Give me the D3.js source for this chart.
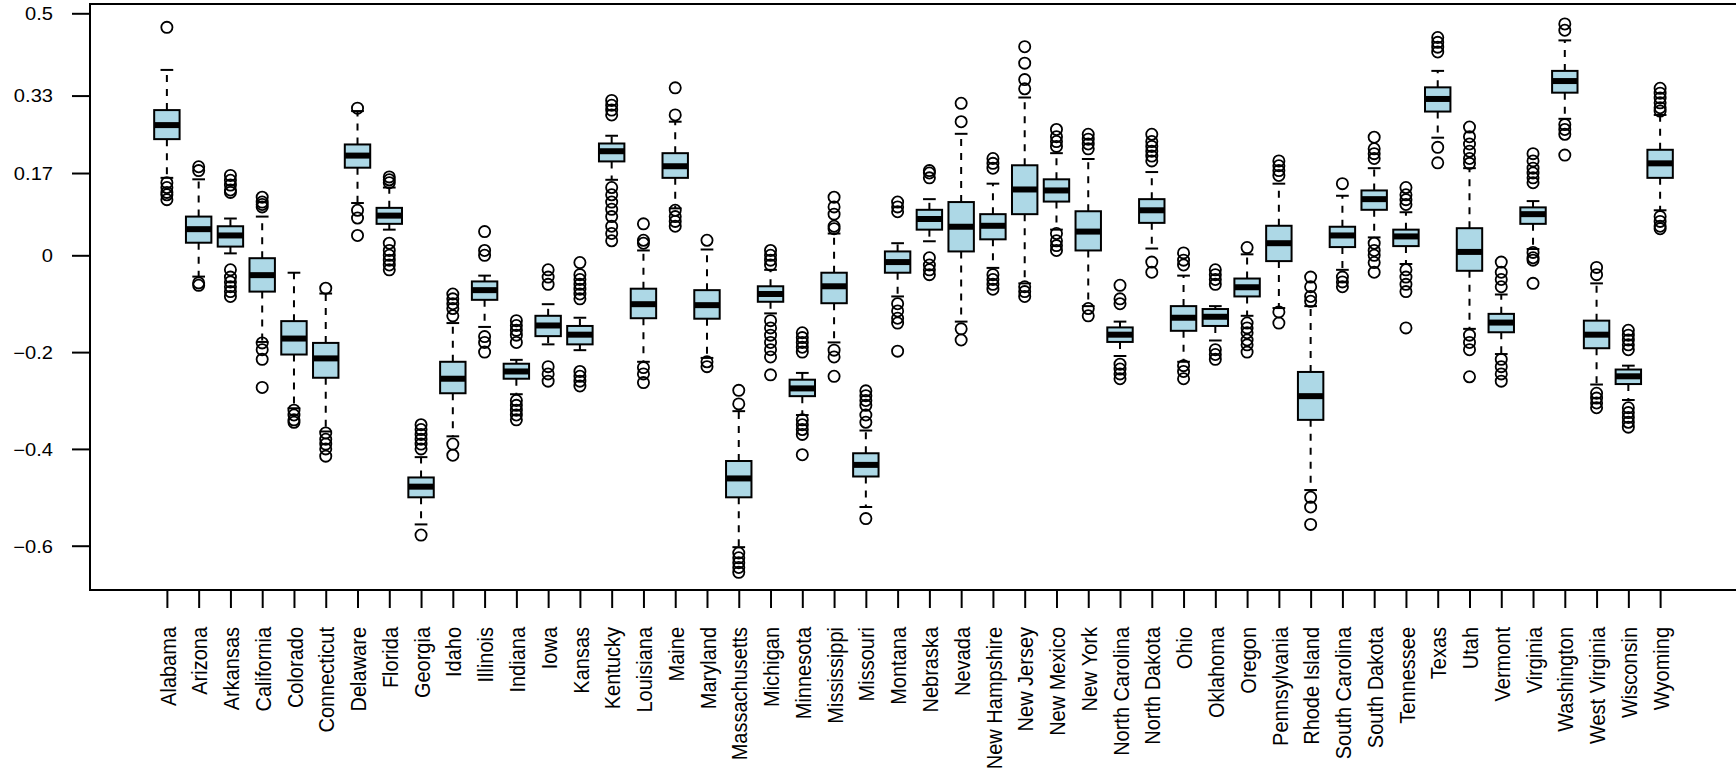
<!DOCTYPE html>
<html lang="en">

<head>
    <meta charset="UTF-8">
    <script src="https://d3js.org/d3.v7.min.js"></script>
    <title>State boxplots</title>
    <style>
        body { margin: 0; background: #fff; }
        svg { display: block; font-family: "Liberation Sans", Arial, Helvetica, sans-serif; }
    </style>
</head>

<body>
    <div id="chart"></div>
    <script>
        // Data
        const states = ["Alabama", "Arizona", "Arkansas", "California", "Colorado", "Connecticut", "Delaware",
            "Florida", "Georgia", "Idaho", "Illinois", "Indiana", "Iowa", "Kansas", "Kentucky", "Louisiana",
            "Maine", "Maryland", "Massachusetts", "Michigan", "Minnesota", "Mississippi", "Missouri", "Montana",
            "Nebraska", "Nevada", "New Hampshire", "New Jersey", "New Mexico", "New York", "North Carolina",
            "North Dakota", "Ohio", "Oklahoma", "Oregon", "Pennsylvania", "Rhode Island", "South Carolina",
            "South Dakota", "Tennessee", "Texas", "Utah", "Vermont", "Virginia", "Washington", "West Virginia",
            "Wisconsin", "Wyoming"];

        const whiskerHigh = [0.383, 0.157, 0.076, 0.080, -0.036, -0.079, 0.298, 0.140, -0.417, -0.140,
            -0.042, -0.216, -0.101, -0.129, 0.247, 0.010, 0.276, 0.012, -0.322, -0.030,
            -0.243, 0.045, -0.362, 0.025, 0.116, 0.251, 0.148, 0.326, 0.211, 0.199,
            -0.137, 0.172, -0.042, -0.105, 0.002, 0.148, -0.105, 0.123, 0.180, 0.089,
            0.381, 0.180, -0.081, 0.112, 0.444, -0.058, -0.228, 0.290];
        const q3 = [0.300, 0.080, 0.060, -0.006, -0.136, -0.181, 0.229, 0.098, -0.459, -0.220,
            -0.054, -0.224, -0.125, -0.146, 0.231, -0.069, 0.211, -0.072, -0.425, -0.064,
            -0.257, -0.036, -0.409, 0.008, 0.094, 0.110, 0.085, 0.186, 0.157, 0.091,
            -0.149, 0.116, -0.105, -0.111, -0.048, 0.061, -0.241, 0.059, 0.134, 0.053,
            0.347, 0.056, -0.121, 0.099, 0.381, -0.135, -0.236, 0.218];
        const median = [0.269, 0.054, 0.041, -0.041, -0.172, -0.213, 0.206, 0.082, -0.478, -0.255,
            -0.072, -0.240, -0.145, -0.164, 0.215, -0.101, 0.184, -0.103, -0.461, -0.080,
            -0.275, -0.064, -0.433, -0.014, 0.075, 0.059, 0.061, 0.136, 0.134, 0.049,
            -0.164, 0.093, -0.129, -0.127, -0.066, 0.025, -0.291, 0.041, 0.116, 0.039,
            0.323, 0.007, -0.139, 0.085, 0.360, -0.164, -0.250, 0.190];
        const q1 = [0.240, 0.026, 0.018, -0.075, -0.205, -0.253, 0.181, 0.065, -0.500, -0.285,
            -0.092, -0.255, -0.167, -0.184, 0.194, -0.130, 0.160, -0.131, -0.500, -0.096,
            -0.291, -0.099, -0.457, -0.036, 0.053, 0.008, 0.033, 0.085, 0.111, 0.010,
            -0.179, 0.067, -0.156, -0.146, -0.085, -0.012, -0.340, 0.017, 0.094, 0.019,
            0.297, -0.032, -0.159, 0.065, 0.336, -0.192, -0.266, 0.160];
        const whiskerLow = [0.160, -0.044, 0.004, -0.179, -0.316, -0.364, 0.108, 0.053, -0.556, -0.374,
            -0.148, -0.287, -0.184, -0.196, 0.156, -0.220, 0.097, -0.212, -0.603, -0.120,
            -0.330, -0.180, -0.520, -0.085, 0.029, -0.137, -0.026, -0.058, 0.053, -0.105,
            -0.208, 0.014, -0.220, -0.176, -0.125, -0.109, -0.485, -0.030, 0.037, -0.018,
            0.243, -0.152, -0.204, 0.013, 0.282, -0.267, -0.299, 0.093];
        const outliers = [
            [0.471, 0.150, 0.140, 0.130, 0.125, 0.115],
            [0.183, 0.175, -0.057, -0.062],
            [0.165, 0.155, 0.145, 0.135, 0.130, -0.030, -0.045, -0.055, -0.065, -0.075, -0.085],
            [0.120, 0.110, 0.105, 0.100, -0.181, -0.195, -0.215, -0.273],
            [-0.320, -0.330, -0.340, -0.345],
            [-0.068, -0.367, -0.380, -0.390, -0.400, -0.415],
            [0.304, 0.093, 0.077, 0.041],
            [0.162, 0.156, 0.150, 0.025, 0.010, 0.000, -0.010, -0.020, -0.030],
            [-0.350, -0.360, -0.370, -0.380, -0.390, -0.400, -0.578],
            [-0.080, -0.090, -0.100, -0.110, -0.125, -0.390, -0.413],
            [0.049, 0.010, 0.000, -0.168, -0.180, -0.200],
            [-0.135, -0.145, -0.155, -0.165, -0.180, -0.300, -0.310, -0.320, -0.330, -0.340],
            [-0.030, -0.045, -0.060, -0.230, -0.245, -0.260],
            [-0.015, -0.040, -0.050, -0.060, -0.070, -0.080, -0.090, -0.240, -0.250, -0.260, -0.270],
            [0.320, 0.310, 0.300, 0.290, 0.140, 0.125, 0.110, 0.095, 0.080, 0.060, 0.045, 0.030],
            [0.065, 0.031, 0.025, -0.232, -0.245, -0.263],
            [0.346, 0.290, 0.093, 0.080, 0.070, 0.060],
            [0.031, -0.220, -0.230],
            [-0.279, -0.307, -0.615, -0.625, -0.635, -0.645, -0.655],
            [0.010, 0.000, -0.010, -0.020, -0.135, -0.150, -0.165, -0.180, -0.195, -0.210, -0.247],
            [-0.160, -0.170, -0.180, -0.190, -0.200, -0.340, -0.350, -0.360, -0.370, -0.412],
            [0.120, 0.100, 0.085, 0.060, 0.055, -0.196, -0.210, -0.250],
            [-0.280, -0.290, -0.300, -0.310, -0.330, -0.345, -0.544],
            [0.110, 0.100, 0.090, -0.100, -0.115, -0.130, -0.140, -0.198],
            [0.175, 0.170, 0.160, -0.005, -0.020, -0.030, -0.040],
            [0.314, 0.276, -0.152, -0.175],
            [0.200, 0.190, 0.180, -0.040, -0.050, -0.060, -0.070],
            [0.431, 0.397, 0.363, 0.344, -0.065, -0.075, -0.085],
            [0.260, 0.245, 0.235, 0.225, 0.045, 0.030, 0.020, 0.010],
            [0.250, 0.240, 0.230, 0.220, -0.110, -0.125],
            [-0.062, -0.090, -0.100, -0.225, -0.235, -0.245, -0.255],
            [0.250, 0.235, 0.225, 0.215, 0.205, 0.195, -0.014, -0.035],
            [0.005, -0.010, -0.020, -0.228, -0.240, -0.255],
            [-0.030, -0.040, -0.050, -0.060, -0.195, -0.205, -0.215],
            [0.016, -0.140, -0.150, -0.160, -0.175, -0.185, -0.200],
            [0.195, 0.185, 0.175, 0.165, -0.117, -0.140],
            [-0.045, -0.065, -0.085, -0.095, -0.500, -0.520, -0.556],
            [0.148, -0.045, -0.055, -0.065],
            [0.244, 0.220, 0.210, 0.200, 0.025, 0.010, 0.000, -0.015, -0.035],
            [0.140, 0.125, 0.115, 0.105, -0.030, -0.045, -0.060, -0.075, -0.150],
            [0.450, 0.440, 0.430, 0.420, 0.223, 0.191],
            [0.265, 0.245, 0.230, 0.215, 0.200, 0.190, -0.165, -0.180, -0.195, -0.251],
            [-0.014, -0.035, -0.050, -0.065, -0.215, -0.230, -0.245, -0.260],
            [0.210, 0.195, 0.180, 0.170, 0.160, 0.150, 0.006, -0.005, -0.010, -0.058],
            [0.478, 0.465, 0.270, 0.260, 0.250, 0.207],
            [-0.025, -0.040, -0.285, -0.295, -0.305, -0.315],
            [-0.155, -0.165, -0.175, -0.185, -0.195, -0.315, -0.325, -0.335, -0.345, -0.355],
            [0.345, 0.335, 0.325, 0.315, 0.305, 0.298, 0.080, 0.070, 0.060, 0.055]
        ];

        const yTicks = [-0.6, -0.4, -0.2, 0, 0.17, 0.33, 0.5];
        const yTickLabels = ["\u22120.6", "\u22120.4", "\u22120.2", "0", "0.17", "0.33", "0.5"];

        // Chart dimensions
        const width = 1736;
        const height = 777;
        const plot = { left: 90, right: 1737, top: 4, bottom: 590 };

        const data = states.map((s, i) => ({
            state: s,
            pos: i + 1,
            lo: whiskerLow[i],
            q1: q1[i],
            med: median[i],
            q3: q3[i],
            hi: whiskerHigh[i],
            out: outliers[i]
        }));

        // Scales (R-style 4% padding around the data range)
        const n = states.length;
        const xScale = d3.scaleLinear()
            .domain([0.5 - 0.04 * n, n + 0.5 + 0.04 * n])
            .range([plot.left, plot.right]);

        const yScale = d3.scaleLinear()
            .domain([-0.6915, 0.5192])
            .range([plot.bottom, plot.top]);

        const boxW = (xScale(1.8) - xScale(1));
        const stapleW = boxW / 2;

        const svg = d3.select("#chart")
            .append("svg")
            .attr("width", width)
            .attr("height", height)
            .attr("viewBox", `0 0 ${width} ${height}`);

        svg.append("rect")
            .attr("width", width)
            .attr("height", height)
            .attr("fill", "white");

        // Boxes
        const groups = svg.append("g")
            .selectAll("g")
            .data(data)
            .join("g")
            .attr("transform", d => `translate(${xScale(d.pos)},0)`);

        // whiskers (dashed)
        groups.append("line")
            .attr("y1", d => yScale(d.q3))
            .attr("y2", d => yScale(d.hi))
            .attr("stroke", "black")
            .attr("stroke-width", 2)
            .attr("stroke-dasharray", "7,7");

        groups.append("line")
            .attr("y1", d => yScale(d.q1))
            .attr("y2", d => yScale(d.lo))
            .attr("stroke", "black")
            .attr("stroke-width", 2)
            .attr("stroke-dasharray", "7,7");

        // staples
        groups.selectAll(".staple")
            .data(d => [d.lo, d.hi])
            .join("line")
            .attr("class", "staple")
            .attr("x1", -stapleW / 2)
            .attr("x2", stapleW / 2)
            .attr("y1", v => yScale(v))
            .attr("y2", v => yScale(v))
            .attr("stroke", "black")
            .attr("stroke-width", 2);

        // box
        groups.append("rect")
            .attr("x", -boxW / 2)
            .attr("y", d => yScale(d.q3))
            .attr("width", boxW)
            .attr("height", d => yScale(d.q1) - yScale(d.q3))
            .attr("fill", "#add8e6")
            .attr("stroke", "black")
            .attr("stroke-width", 2);

        // median
        groups.append("line")
            .attr("x1", -boxW / 2)
            .attr("x2", boxW / 2)
            .attr("y1", d => yScale(d.med))
            .attr("y2", d => yScale(d.med))
            .attr("stroke", "black")
            .attr("stroke-width", 6);

        // outliers
        groups.selectAll("circle")
            .data(d => d.out)
            .join("circle")
            .attr("cx", 0)
            .attr("cy", v => yScale(v))
            .attr("r", 5.6)
            .attr("fill", "none")
            .attr("stroke", "black")
            .attr("stroke-width", 1.8);

        // Axes (the original text is a little wider than tall, so stretch it a bit)
        const yAxis = svg.append("g")
            .attr("transform", `translate(${plot.left},0)`)
            .call(d3.axisLeft(yScale)
                .tickValues(yTicks)
                .tickFormat((d, i) => yTickLabels[i])
                .tickSize(18));
        yAxis.select(".domain").remove();
        yAxis.selectAll("line").attr("stroke", "black").attr("stroke-width", 2);
        yAxis.selectAll("text")
            .attr("fill", "black")
            .attr("x", 0)
            .attr("dy", "0.36em")
            .attr("text-anchor", "end")
            .attr("transform", "translate(-37,0) scale(1.13,1)")
            .style("font-size", "17.8px");

        const xAxis = svg.append("g")
            .attr("transform", `translate(0,${plot.bottom})`)
            .call(d3.axisBottom(xScale)
                .tickValues(data.map(d => d.pos))
                .tickFormat((d, i) => states[i])
                .tickSize(18));
        xAxis.select(".domain").remove();
        xAxis.selectAll("line").attr("stroke", "black").attr("stroke-width", 2);
        xAxis.selectAll("text")
            .attr("fill", "black")
            .attr("transform", "rotate(-90) scale(1,1.13)")
            .attr("x", -37)
            .attr("y", 0)
            .attr("dy", "0.36em")
            .attr("text-anchor", "end")
            .style("font-size", "20px");

        // Plot frame
        svg.append("rect")
            .attr("x", plot.left)
            .attr("y", plot.top)
            .attr("width", plot.right - plot.left)
            .attr("height", plot.bottom - plot.top)
            .attr("fill", "none")
            .attr("stroke", "black")
            .attr("stroke-width", 2);
    </script>
</body>

</html>
